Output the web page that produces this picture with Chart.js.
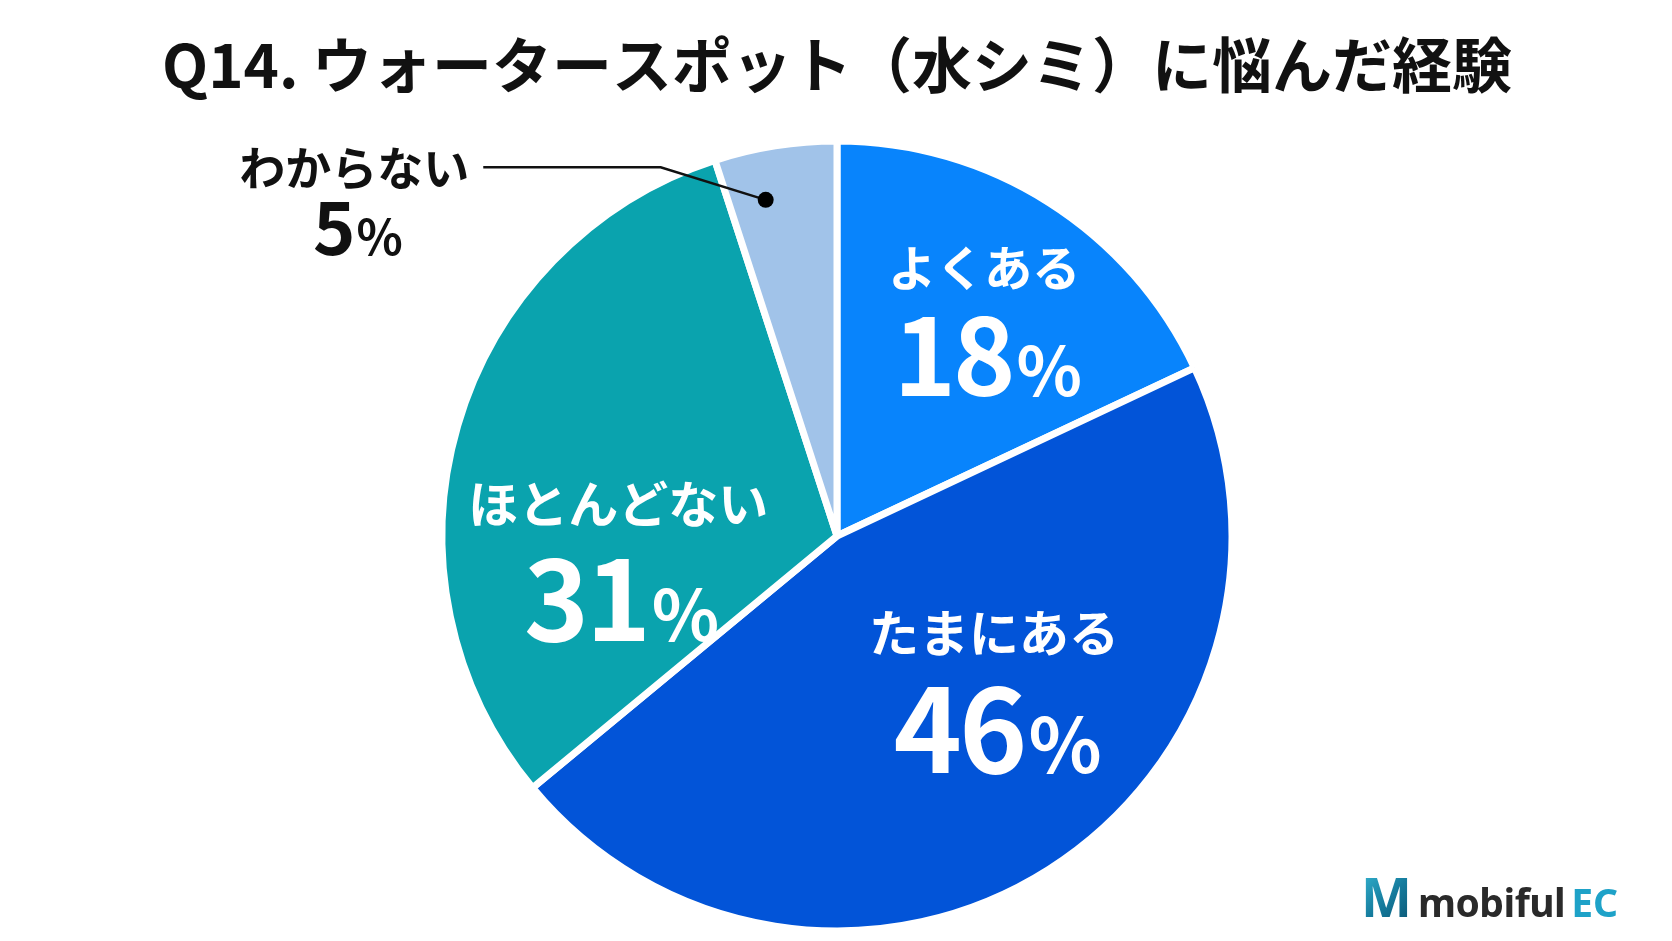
<!DOCTYPE html>
<html lang="ja">
<head>
<meta charset="utf-8">
<title>Q14. ウォータースポット（水シミ）に悩んだ経験</title>
<script src="https://cdn.jsdelivr.net/npm/chart.js@4.4.1/dist/chart.umd.min.js"></script>
<style>
  html, body { margin: 0; padding: 0; background: #fff; }
  #wrap { position: relative; width: 1672px; height: 941px; overflow: hidden; }
  #logo { position: absolute; left: 1361px; top: 859px; white-space: nowrap; font-family: "Noto Sans", sans-serif; }
  #logo .m { font-size: 54px; font-weight: 700; letter-spacing: -2px;
    background: linear-gradient(135deg, #3cc0dc 0%, #147a9c 55%, #0b4f6c 100%);
    -webkit-background-clip: text; background-clip: text; color: transparent; }
  #logo .mob { font-size: 39px; font-weight: 700; color: #2a2a2a; margin-left: 8px; letter-spacing: -0.5px; }
  #logo .ec { font-size: 39px; font-weight: 700; color: #1ea2c8; margin-left: 6px; }
</style>
</head>
<body>
<div id="wrap">
  <canvas id="pie" width="1672" height="941"></canvas>
  <div id="logo"><span class="m">M</span><span class="mob">mobiful</span><span class="ec">EC</span></div>
</div>
<script>
// data
const labels = ['よくある', 'たまにある', 'ほとんどない', 'わからない'];
const values = [18, 46, 31, 5];
const colors = ['#0884fc', '#0254d8', '#0aa3ae', '#a1c3e9'];
const titleText = 'Q14. ウォータースポット（水シミ）に悩んだ経験';

// where each label sits: angle (deg, canvas) and distance as part of the radius
const labelSpots = [
  { angle: -61.2, frac: 0.774, nameSize: 48, numSize: 106, pctSize: 68, gap: 128, color: '#fff' },
  { angle: 31.6, frac: 0.467, nameSize: 50, numSize: 116, pctSize: 76, gap: 140, color: '#fff' },
  { angle: 188.4, frac: 0.56, nameSize: 50, numSize: 110, pctSize: 70, gap: 137, color: '#fff' },
  { angle: 217.38, frac: 1.538, nameSize: 46, numSize: 72, pctSize: 48, gap: 88, color: '#111' }
];
const FONT = '"Noto Sans CJK JP", "Noto Sans", sans-serif';

const sliceLabels = {
  id: 'sliceLabels',
  afterDatasetsDraw(chart) {
    const ctx = chart.ctx;
    const meta = chart.getDatasetMeta(0);
    ctx.save();
    meta.data.forEach((arc, i) => {
      const p = arc.getProps(['x', 'y', 'outerRadius', 'startAngle', 'endAngle'], true);
      const s = labelSpots[i];
      const a = s.angle * Math.PI / 180;
      const x = p.x + Math.cos(a) * p.outerRadius * s.frac;
      const y = p.y + Math.sin(a) * p.outerRadius * s.frac;

      ctx.fillStyle = s.color;
      ctx.letterSpacing = '0px';
      ctx.textAlign = 'center';
      ctx.textBaseline = 'middle';
      ctx.font = 'bold ' + s.nameSize + 'px ' + FONT;
      ctx.fillText(labels[i], x, y);
      const nameW = ctx.measureText(labels[i]).width;

      // number + smaller %
      const num = String(values[i]);
      ctx.textBaseline = 'alphabetic';
      ctx.textAlign = 'left';
      ctx.letterSpacing = '-3px';
      ctx.font = 'bold ' + s.numSize + 'px ' + FONT;
      const w1 = ctx.measureText(num).width;
      ctx.font = 'bold ' + s.pctSize + 'px ' + FONT;
      const w2 = ctx.measureText('%').width;
      const sx = x - (w1 + w2) / 2;
      ctx.font = 'bold ' + s.numSize + 'px ' + FONT;
      ctx.fillText(num, sx, y + s.gap);
      ctx.font = 'bold ' + s.pctSize + 'px ' + FONT;
      ctx.fillText('%', sx + w1 + 4, y + s.gap);

      // leader line for the outside label
      if (s.frac > 1) {
        const mid = (p.startAngle + p.endAngle) / 2 - 0.052;
        const dx = p.x + Math.cos(mid) * p.outerRadius * 0.87;
        const dy = p.y + Math.sin(mid) * p.outerRadius * 0.87;
        const lx = x + nameW / 2 + 14;
        ctx.strokeStyle = '#111';
        ctx.lineWidth = 2.5;
        ctx.beginPath();
        ctx.moveTo(lx, y);
        ctx.lineTo(dx - 105, y);
        ctx.lineTo(dx, dy);
        ctx.stroke();
        ctx.fillStyle = '#000';
        ctx.beginPath();
        ctx.arc(dx, dy, 8, 0, Math.PI * 2);
        ctx.fill();
      }
    });
    ctx.restore();
  }
};

const ctx = document.getElementById('pie').getContext('2d');
const chart = new Chart(ctx, {
  type: 'pie',
  data: {
    labels: labels,
    datasets: [{
      data: values,
      backgroundColor: colors,
      borderColor: '#ffffff',
      borderWidth: 7,
      hoverOffset: 0
    }]
  },
  options: {
    responsive: false,
    animation: false,
    radius: 395,
    layout: { padding: { left: 2, right: 0, top: 0, bottom: 0 } },
    plugins: {
      legend: { display: false },
      tooltip: { enabled: false },
      title: {
        display: true,
        text: titleText,
        color: '#111',
        font: { family: FONT, size: 60, weight: 'bold', lineHeight: 1.2 },
        padding: { top: 29, bottom: 30 }
      }
    }
  },
  plugins: [sliceLabels]
});
</script>
</body>
</html>
